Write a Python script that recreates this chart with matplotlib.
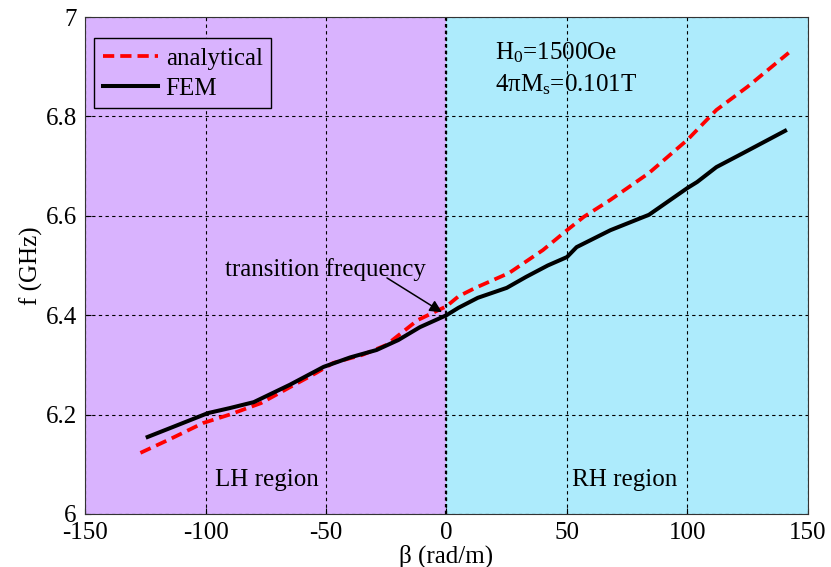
import matplotlib
matplotlib.use('Agg')
from matplotlib import pyplot as plt

# analytical dispersion (red dashed)
beta_analytical = [-127, -115, -101, -90, -77, -65, -54, -47, -35, -25, -12, 0, 5, 12,
                   26, 40, 50, 57, 68, 84, 100, 112, 125, 142]
f_analytical = [6.123, 6.150, 6.183, 6.200, 6.223, 6.255, 6.284, 6.304, 6.320, 6.340,
                6.390, 6.418, 6.438, 6.455, 6.485, 6.531, 6.571, 6.598, 6.632, 6.686,
                6.753, 6.813, 6.860, 6.928]

# FEM dispersion (black solid)
beta_fem = [-124, -112, -99, -90, -80, -65, -51, -40, -29, -20, -11, 0, 5, 13, 25, 33,
            42, 50, 54, 68, 84, 100, 104, 112, 123, 140.5]
f_fem = [6.155, 6.178, 6.203, 6.213, 6.225, 6.260, 6.296, 6.315, 6.330, 6.350, 6.376,
         6.400, 6.415, 6.435, 6.455, 6.477, 6.500, 6.517, 6.537, 6.571, 6.602, 6.656,
         6.668, 6.698, 6.726, 6.771]

x_ticks = [-150, -100, -50, 0, 50, 100, 150]
y_ticks = [6, 6.2, 6.4, 6.6, 6.8, 7]
y_tick_labels = ['6', '6.2', '6.4', '6.6', '6.8', '7']

plt.rcParams['font.family'] = ['Liberation Serif', 'DejaVu Serif']
plt.rcParams['mathtext.fontset'] = 'custom'
plt.rcParams['mathtext.rm'] = 'Liberation Serif'
plt.rcParams['mathtext.it'] = 'Liberation Serif:italic'
plt.rcParams['font.size'] = 18

fig = plt.figure(figsize=(8.31, 5.67), dpi=100)
ax = fig.add_axes([0.1023, 0.0935, 0.87, 0.8765])

ax.axvspan(-150, 0, color='#D9B3FE', zorder=0, lw=0)
ax.axvspan(0, 150, color='#ADEBFC', zorder=0, lw=0)

ax.plot(beta_analytical, f_analytical, color='red', linestyle=(0, (3, 1.6)),
        linewidth=2.7, label='analytical', zorder=3)
ax.plot(beta_fem, f_fem, color='black', linewidth=2.9, label='FEM', zorder=3)

ax.set_xlim(-150, 150)
ax.set_ylim(6, 7)
ax.set_xticks(x_ticks)
ax.set_xticklabels([str(t) for t in x_ticks])
ax.set_yticks(y_ticks)
ax.set_yticklabels(y_tick_labels)
ax.tick_params(direction='in', length=4, pad=6, colors='black')
ax.grid(True, color='black', linestyle=(0, (3, 3)), linewidth=0.8)
ax.axvline(0, color='black', linestyle=(0, (1.5, 1.5)), linewidth=1.6, zorder=2)
ax.set_axisbelow(False)
for s in ax.spines.values():
    s.set_color('#333333')
    s.set_zorder(4)

ax.set_xlabel('β (rad/m)', labelpad=0)
ax.set_ylabel('f (GHz)', labelpad=2)

ax.text(-92, 6.491, 'transition frequency', va='center', ha='left', zorder=5)
ax.annotate('', xy=(-1.9, 6.406), xytext=(-24.7, 6.475),
            arrowprops=dict(arrowstyle='-|>', color='black', lw=1.1,
                            shrinkA=0, shrinkB=0, mutation_scale=18),
            zorder=5)

ax.text(20, 6.928, r'H$_\mathrm{0}$=1500Oe', va='center', ha='left')
ax.text(20, 6.863, r'4πM$_\mathrm{s}$=0.101T', va='center', ha='left')
ax.text(-74.6, 6.068, 'LH region', va='center', ha='center')
ax.text(74, 6.068, 'RH region', va='center', ha='center')

leg = ax.legend(loc='upper left', bbox_to_anchor=(0.013, 0.957), fancybox=False,
                framealpha=1, facecolor='#D9B3FE', edgecolor='black',
                handlelength=2.2, handletextpad=0.3, borderpad=0.35,
                labelspacing=0.3, borderaxespad=0)
leg.get_frame().set_linewidth(1.0)

plt.savefig('out.png', dpi=100)
